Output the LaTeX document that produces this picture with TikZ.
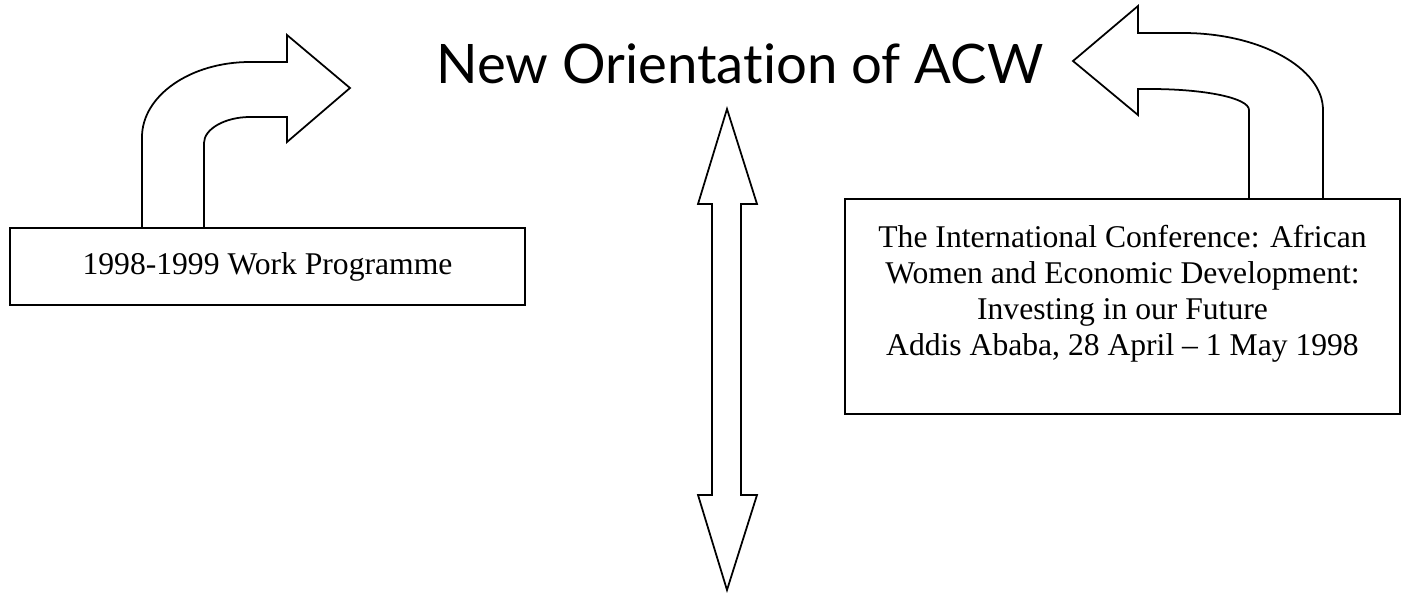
\documentclass[tikz,border=0pt]{standalone}
\usepackage{fontspec}
\setmainfont{Liberation Serif}
\newfontfamily\titlefont[Ligatures=NoCommon]{Lato}

\begin{document}
\begin{tikzpicture}[x=0.02cm, y=0.02cm]
	\tikzstyle{every node}+=[inner sep=0pt]
	\tikzstyle{box}=[draw=black, line width=1pt, rectangle]
	\tikzstyle{blockarrow}=[draw=black, line width=1pt, line join=miter]
	\useasboundingbox (0,0) rectangle (1407,-592);
	\node (title) at (740,-83) [anchor=base, font=\titlefont\fontsize{31}{36}\selectfont] {New Orientation of ACW};
	\node (prog) at (267.5,-266.5) [box, minimum width=10.3cm, minimum height=1.54cm, font=\fontsize{18}{21}\selectfont] {1998-1999 Work Programme};
	\node (conf) at (1122.5,-306.5) [box, minimum width=11.1cm, minimum height=4.3cm] {};
	\node (conftext) at (1122.5,-294) [align=center, font=\fontsize{18}{20.5}\selectfont] {The International Conference: African\\Women and Economic Development:\\Investing in our Future\\Addis Ababa, 28 April -- 1 May 1998};
	\draw [blockarrow] (142,-228) -- (142,-137) .. controls (142,-96) and (190,-62) .. (250,-62) -- (287,-62) -- (287,-35) -- (350,-88) -- (287,-142) -- (287,-117) -- (250,-117) .. controls (225,-117) and (204,-129) .. (204,-143) -- (204,-228);
	\draw [blockarrow] (1323,-199) -- (1323,-110) .. controls (1323,-68) and (1260,-33) .. (1183,-33) -- (1138,-33) -- (1138,-6) -- (1073,-61) -- (1138,-115) -- (1138,-89) -- (1150,-89) .. controls (1205,-89) and (1249,-98) .. (1249,-110) -- (1249,-199);
	\draw [blockarrow] (727,-109) -- (757,-204) -- (741,-204) -- (741,-495) -- (757,-495) -- (727,-590) -- (698,-495) -- (712,-495) -- (712,-204) -- (698,-204) -- cycle;
\end{tikzpicture}
\end{document}
